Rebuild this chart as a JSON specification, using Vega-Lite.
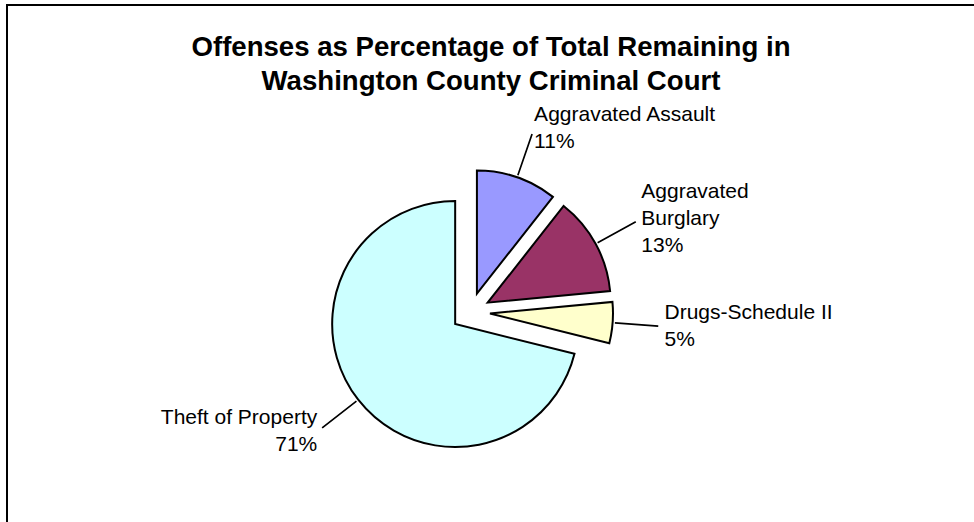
{
  "$schema": "https://vega.github.io/schema/vega-lite/v6.json",
  "width": 980,
  "height": 614,
  "autosize": {"type": "none"},
  "padding": {"left": 7, "top": 5, "right": 0, "bottom": 0},
  "background": "white",
  "config": {"view": {"stroke": null}},
  "title": {
    "text": ["Offenses as Percentage of Total Remaining in", "Washington County Criminal Court"],
    "font": "Liberation Sans",
    "fontSize": 27.6,
    "fontWeight": "bold",
    "color": "black",
    "anchor": "middle",
    "frame": "group",
    "baseline": "alphabetic",
    "lineHeight": 34,
    "offset": -114,
    "dx": -6
  },
  "data": {
    "values": [
      {"offense": "Aggravated Assault", "percent": 10.6},
      {"offense": "Aggravated Burglary", "percent": 12.9},
      {"offense": "Drugs-Schedule II", "percent": 5.4},
      {"offense": "Theft of Property", "percent": 71.1}
    ]
  },
  "transform": [
    {"window": [{"op": "sum", "field": "percent", "as": "cum"}], "frame": [null, 0]},
    {"joinaggregate": [{"op": "sum", "field": "percent", "as": "total"}]},
    {"calculate": "(datum.cum - datum.percent) / datum.total * 100", "as": "a0"},
    {"calculate": "datum.cum / datum.total * 100", "as": "a1"},
    {"calculate": "(datum.a0 + datum.a1) / 2", "as": "am"},
    {"calculate": "datum.am - 0.01", "as": "amL"},
    {"calculate": "datum.am + 0.01", "as": "amR"},
    {"calculate": "datum.am / 100 * 2 * PI", "as": "rad"},
    {"calculate": "19.5 * sin(datum.rad)", "as": "ex"},
    {"calculate": "-19.5 * cos(datum.rad)", "as": "ey"},
    {"calculate": "sin(datum.rad) > 0.3 ? 'left' : (sin(datum.rad) < -0.3 ? 'right' : 'center')", "as": "al"},
    {"calculate": "length(datum.offense) > 18 ? 3 : 2", "as": "nl"},
    {"calculate": "(length(datum.offense) > 18 ? replace(datum.offense, ' ', '\\n') : datum.offense) + '\\n' + format(datum.percent / datum.total, '.0%')", "as": "label"}
  ],
  "layer": [
    {
      "data": {"values": [{}]},
      "mark": {"type": "rect", "fill": null, "stroke": "black", "strokeWidth": 2},
      "encoding": {}
    },
    {
      "mark": {"type": "arc", "radius": 123, "stroke": "black", "strokeWidth": 2, "x": {"expr": "width * 0.473"}},
      "encoding": {
        "theta": {"field": "a0", "type": "quantitative", "scale": {"domain": [0, 100], "range": [0, 6.283185307179586]}},
        "theta2": {"field": "a1"},
        "color": {
          "field": "offense",
          "type": "nominal",
          "scale": {
            "domain": ["Aggravated Assault", "Aggravated Burglary", "Drugs-Schedule II", "Theft of Property"],
            "range": ["#9999FF", "#993366", "#FFFFCC", "#CCFFFF"]
          },
          "legend": null
        },
        "xOffset": {"field": "ex", "type": "quantitative", "scale": null},
        "yOffset": {"field": "ey", "type": "quantitative", "scale": null}
      }
    },
    {
      "mark": {"type": "arc", "radius": 168, "radius2": 126, "stroke": "black", "strokeWidth": 1.5, "fill": "black", "x": {"expr": "width * 0.473"}},
      "encoding": {
        "theta": {"field": "amL", "type": "quantitative"},
        "theta2": {"field": "amR"},
        "xOffset": {"field": "ex", "type": "quantitative", "scale": null},
        "yOffset": {"field": "ey", "type": "quantitative", "scale": null}
      }
    },
    {
      "mark": {
        "type": "text",
        "radius": 175,
        "font": "Liberation Sans",
        "fontSize": 21,
        "lineHeight": 27,
        "lineBreak": "\n",
        "color": "black",
        "baseline": "middle",
        "x": {"expr": "width * 0.473"},
        "align": {"expr": "datum.al"},
        "dy": {"expr": "-(datum.nl - 1) * 13.5"}
      },
      "encoding": {
        "theta": {"field": "am", "type": "quantitative"},
        "text": {"field": "label", "type": "nominal"},
        "xOffset": {"field": "ex", "type": "quantitative", "scale": null},
        "yOffset": {"field": "ey", "type": "quantitative", "scale": null}
      }
    }
  ]
}
